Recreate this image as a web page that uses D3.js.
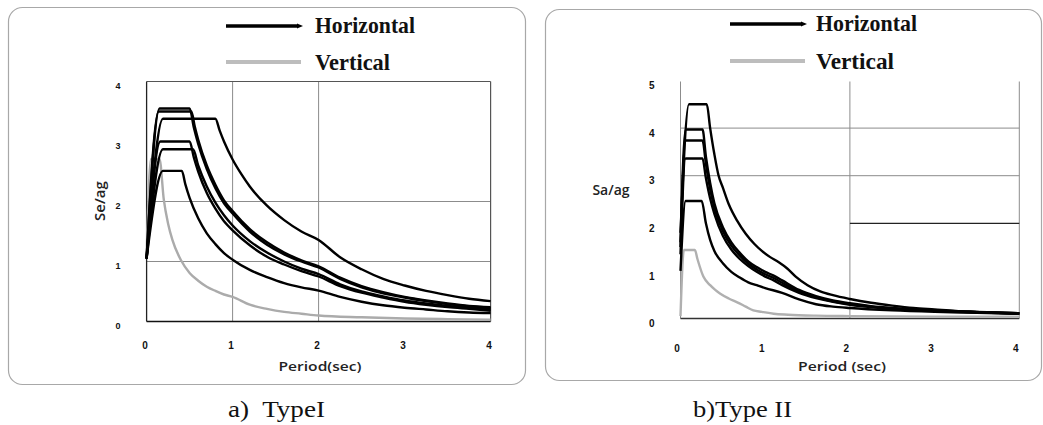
<!DOCTYPE html>
<html><head><meta charset="utf-8">
<script src="https://cdn.jsdelivr.net/npm/d3@7"></script>
<style>body{margin:0;background:#fff}svg{display:block}</style>
</head><body>
<svg id="c" width="1043" height="425"></svg>
<script>
// ---------- data ----------
const periodTicks = [0, 1, 2, 3, 4];
const typeIYTicks = [0, 1, 2, 3, 4];
const typeIIYTicks = [0, 1, 2, 3, 4, 5];
const legendLabels = ["Horizontal", "Vertical"];
const captions = ["a)  TypeI", "b)Type II"];

// Type I (Se/ag) – horizontal spectra
const typeI_H1 = [[0,1.05],[0.15,3.55],[0.5,3.55],[0.55,3.23],[0.6,2.96],[0.7,2.54],[0.8,2.22],[0.9,1.97],[1.0,1.8],[1.2,1.5],[1.4,1.28],[1.6,1.12],[1.8,1.0],[2.0,0.9],[2.25,0.71],[2.5,0.57],[2.75,0.47],[3.0,0.40],[3.25,0.34],[3.5,0.29],[3.75,0.25],[4.0,0.22]];
const typeI_H2 = [[0,1.05],[0.14,3.5],[0.52,3.5],[0.56,3.25],[0.6,3.03],[0.7,2.6],[0.8,2.28],[0.9,2.02],[1.0,1.84],[1.2,1.54],[1.4,1.32],[1.6,1.15],[1.8,1.02],[2.0,0.92],[2.25,0.73],[2.5,0.59],[2.75,0.49],[3.0,0.41],[3.25,0.35],[3.5,0.30],[3.75,0.26],[4.0,0.24]];
const typeI_H3 = [[0,1.05],[0.19,3.38],[0.8,3.38],[0.85,3.18],[0.9,3.0],[1.0,2.70],[1.1,2.46],[1.2,2.25],[1.4,1.93],[1.6,1.69],[1.8,1.50],[2.0,1.36],[2.25,1.07],[2.5,0.87],[2.75,0.71],[3.0,0.60],[3.25,0.51],[3.5,0.44],[3.75,0.38],[4.0,0.34]];
const typeI_H4 = [[0,1.05],[0.16,3.0],[0.5,3.0],[0.55,2.73],[0.6,2.5],[0.7,2.14],[0.8,1.88],[0.9,1.67],[1.0,1.52],[1.2,1.27],[1.4,1.08],[1.6,0.95],[1.8,0.84],[2.0,0.75],[2.25,0.59],[2.5,0.48],[2.75,0.40],[3.0,0.33],[3.25,0.28],[3.5,0.24],[3.75,0.21],[4.0,0.18]];
const typeI_H5 = [[0,1.05],[0.19,2.87],[0.54,2.87],[0.6,2.6],[0.7,2.25],[0.8,1.98],[0.9,1.77],[1.0,1.6],[1.2,1.34],[1.4,1.15],[1.6,1.0],[1.8,0.88],[2.0,0.79],[2.25,0.62],[2.5,0.50],[2.75,0.42],[3.0,0.35],[3.25,0.30],[3.5,0.26],[3.75,0.23],[4.0,0.20]];
const typeI_H6 = [[0,1.05],[0.19,2.51],[0.41,2.51],[0.45,2.29],[0.5,2.06],[0.6,1.72],[0.7,1.47],[0.8,1.29],[0.9,1.14],[1.0,1.03],[1.2,0.86],[1.4,0.74],[1.6,0.64],[1.8,0.57],[2.0,0.515],[2.25,0.41],[2.5,0.33],[2.75,0.27],[3.0,0.23],[3.25,0.20],[3.5,0.17],[3.75,0.15],[4.0,0.14]];
// Type I – vertical spectrum
const typeI_V = [[0,1.05],[0.05,2.71],[0.15,2.71],[0.2,2.03],[0.25,1.63],[0.3,1.36],[0.4,1.02],[0.5,0.81],[0.6,0.68],[0.7,0.58],[0.8,0.51],[0.9,0.45],[1.0,0.41],[1.2,0.28],[1.4,0.21],[1.6,0.16],[1.8,0.13],[2.0,0.10],[2.5,0.07],[3.0,0.05],[3.5,0.04],[4.0,0.03]];

// Type II (Sa/ag) – horizontal spectra
const typeII_H1 = [[0,1.8],[0.1,4.5],[0.31,4.5],[0.35,4.0],[0.4,3.45],[0.45,3.0],[0.5,2.75],[0.57,2.4],[0.67,2.05],[0.77,1.78],[0.87,1.57],[0.96,1.42],[1.05,1.3],[1.16,1.18],[1.26,1.05],[1.36,0.88],[1.5,0.7],[1.65,0.57],[1.8,0.49],[2.0,0.41],[2.25,0.33],[2.5,0.27],[2.75,0.22],[3.0,0.19],[3.25,0.16],[3.5,0.14],[3.75,0.12],[4.0,0.11]];
const typeII_H2 = [[0,1.6],[0.06,3.97],[0.26,3.97],[0.3,3.4],[0.35,2.85],[0.4,2.42],[0.5,1.92],[0.6,1.6],[0.7,1.38],[0.8,1.2],[0.9,1.08],[1.0,0.98],[1.1,0.9],[1.2,0.8],[1.4,0.6],[1.6,0.47],[1.8,0.38],[2.0,0.32],[2.25,0.26],[2.5,0.22],[2.75,0.19],[3.0,0.17],[3.5,0.14],[4.0,0.11]];
const typeII_H3 = [[0,1.5],[0.06,3.74],[0.26,3.74],[0.3,3.25],[0.35,2.72],[0.4,2.33],[0.5,1.84],[0.6,1.53],[0.7,1.32],[0.8,1.15],[0.9,1.03],[1.0,0.93],[1.1,0.85],[1.2,0.75],[1.4,0.57],[1.6,0.45],[1.8,0.36],[2.0,0.30],[2.25,0.25],[2.5,0.21],[2.75,0.18],[3.0,0.16],[3.5,0.13],[4.0,0.11]];
const typeII_H4 = [[0,1.35],[0.06,3.36],[0.26,3.36],[0.3,2.95],[0.35,2.52],[0.4,2.2],[0.5,1.74],[0.6,1.45],[0.7,1.25],[0.8,1.1],[0.9,0.98],[1.0,0.88],[1.1,0.8],[1.2,0.7],[1.4,0.54],[1.6,0.43],[1.8,0.35],[2.0,0.29],[2.25,0.24],[2.5,0.20],[2.75,0.18],[3.0,0.16],[3.5,0.13],[4.0,0.10]];
const typeII_H5 = [[0,1.0],[0.06,2.47],[0.25,2.47],[0.3,2.0],[0.35,1.65],[0.4,1.42],[0.5,1.16],[0.6,0.98],[0.7,0.86],[0.8,0.76],[0.9,0.7],[1.0,0.64],[1.2,0.54],[1.4,0.4],[1.6,0.3],[1.8,0.25],[2.0,0.22],[2.5,0.17],[3.0,0.14],[3.5,0.12],[4.0,0.10]];
// Type II – vertical spectrum
const typeII_V = [[0,0.05],[0.04,1.44],[0.17,1.44],[0.2,1.25],[0.27,0.88],[0.35,0.7],[0.41,0.6],[0.47,0.52],[0.57,0.42],[0.67,0.34],[0.77,0.25],[0.86,0.17],[0.96,0.14],[1.1,0.1],[1.27,0.08],[1.6,0.06],[2.0,0.05],[3.0,0.04],[4.0,0.04]];

// ---------- drawing ----------
const svg = d3.select("#c");
const BLACK = "#000", GRID = "#8c8c8c";
const serif = "Liberation Serif";
const sans = "Open Sans";

// panel frames
svg.append("rect").attr("x",8.5).attr("y",7.5).attr("width",517).attr("height",377)
  .attr("rx",14).attr("fill","none").attr("stroke","#a8a8a8").attr("stroke-width",1.2);
svg.append("rect").attr("x",545.5).attr("y",9.5).attr("width",496).attr("height",371)
  .attr("rx",14).attr("fill","none").attr("stroke","#a8a8a8").attr("stroke-width",1.2);

function legend(x0, yH, yV, tx, wH, wV) {
  const g = svg.append("g");
  g.append("line").attr("x1",x0).attr("x2",x0+72).attr("y1",yH).attr("y2",yH)
    .attr("stroke",BLACK).attr("stroke-width",3.5);
  g.append("path").attr("d",`M${x0+71},${yH-2.5}L${x0+77},${yH}L${x0+71},${yH+2.5}Z`).attr("fill",BLACK);
  g.append("line").attr("x1",x0).attr("x2",x0+75).attr("y1",yV).attr("y2",yV)
    .attr("stroke","#bdbdbd").attr("stroke-width",4);
  g.append("text").attr("x",tx).attr("y",yH+7).text(legendLabels[0])
    .style("font-family",serif).attr("font-weight","bold").attr("font-size",23)
    .attr("textLength",wH).attr("lengthAdjust","spacingAndGlyphs").attr("fill","#111");
  g.append("text").attr("x",tx).attr("y",yV+8).text(legendLabels[1])
    .style("font-family",serif).attr("font-weight","bold").attr("font-size",23)
    .attr("textLength",wV).attr("lengthAdjust","spacingAndGlyphs").attr("fill","#111");
}
legend(226, 26, 62, 315, 100, 75);
legend(730, 24, 61, 816, 101, 78);

function tickStyle(sel, size) {
  sel.select(".domain").remove();
  sel.selectAll(".tick line").remove();
  sel.selectAll("text").style("font-family","Liberation Sans")
    .attr("font-weight","bold").attr("font-size",size).attr("fill","#111");
}

// ===== Panel a) Type I =====
{
  const x = d3.scaleLinear().domain([0,4]).range([146.6,490.6]);
  const y = d3.scaleLinear().domain([0,4]).range([321.5,81.5]);
  const g = svg.append("g");
  g.selectAll(".vg").data([1,2]).join("line").attr("x1",d=>x(d)).attr("x2",d=>x(d))
    .attr("y1",y(4)).attr("y2",y(0)).attr("stroke",GRID).attr("stroke-width",1);
  g.selectAll(".hg").data([1,2]).join("line").attr("x1",x(0)).attr("x2",x(4))
    .attr("y1",d=>y(d)).attr("y2",d=>y(d)).attr("stroke",GRID).attr("stroke-width",1);
  g.append("line").attr("x1",x(0)).attr("x2",x(4)).attr("y1",y(4)).attr("y2",y(4)).attr("stroke","#555").attr("stroke-width",1.2);
  g.append("line").attr("x1",x(4)).attr("x2",x(4)).attr("y1",y(4)).attr("y2",y(0)).attr("stroke","#555").attr("stroke-width",1.2);
  g.append("line").attr("x1",x(0)).attr("x2",x(0)).attr("y1",y(4)).attr("y2",y(0)).attr("stroke","#222").attr("stroke-width",1.3);
  g.append("line").attr("x1",x(0)).attr("x2",x(4)).attr("y1",y(0)).attr("y2",y(0)).attr("stroke","#111").attr("stroke-width",1.5);

  const line = d3.line().x(d=>x(d[0])).y(d=>y(d[1])).curve(d3.curveMonotoneX);
  g.append("path").datum(typeI_V).attr("d",line).attr("fill","none").attr("stroke","#ababab").attr("stroke-width",2.4);
  [typeI_H1,typeI_H2,typeI_H3,typeI_H4,typeI_H5,typeI_H6].forEach(s=>{
    g.append("path").datum(s).attr("d",line).attr("fill","none").attr("stroke",BLACK)
      .attr("stroke-width",2.4).attr("stroke-linejoin","round");
  });

  const ax = svg.append("g").attr("transform",`translate(-2,${y(0)})`)
    .call(d3.axisBottom(x).tickValues(periodTicks).tickFormat(d3.format("d")).tickSize(0).tickPadding(20));
  tickStyle(ax, 10);
  const ay = svg.append("g").attr("transform",`translate(${x(0)},4)`)
    .call(d3.axisLeft(y).tickValues(typeIYTicks).tickFormat(d3.format("d")).tickSize(0).tickPadding(26));
  tickStyle(ay, 9);

  svg.append("text").attr("x",320).attr("y",371).attr("text-anchor","middle").text("Period(sec)")
    .style("font-family",sans).attr("font-weight","600").attr("font-size",13).attr("fill","#222")
    .attr("textLength",83).attr("lengthAdjust","spacingAndGlyphs");
  svg.append("text").attr("transform","translate(105,201) rotate(-90)").attr("text-anchor","middle")
    .text("Se/ag").style("font-family",sans).attr("font-weight","600").attr("font-size",15).attr("fill","#222");
}

// ===== Panel b) Type II =====
{
  const x = d3.scaleLinear().domain([0,4]).range([680.5,1019.3]);
  const y = d3.scaleLinear().domain([0,5]).range([318.5,80.5]);
  const g = svg.append("g");
  g.selectAll(".vg").data([0,2,4]).join("line").attr("x1",d=>x(d)).attr("x2",d=>x(d))
    .attr("y1",y(5)+1).attr("y2",y(0)).attr("stroke",GRID).attr("stroke-width",1);
  g.selectAll(".hg").data([3,4]).join("line").attr("x1",x(0)).attr("x2",x(4))
    .attr("y1",d=>y(d)).attr("y2",d=>y(d)).attr("stroke",GRID).attr("stroke-width",1);
  g.append("line").attr("x1",x(2)).attr("x2",x(4)).attr("y1",y(2)).attr("y2",y(2))
    .attr("stroke","#222").attr("stroke-width",1.3);
  g.append("line").attr("x1",x(0)).attr("x2",x(4)).attr("y1",y(0)).attr("y2",y(0))
    .attr("stroke","#333").attr("stroke-width",1.3);

  const line = d3.line().x(d=>x(d[0])).y(d=>y(d[1])).curve(d3.curveMonotoneX);
  g.append("path").datum(typeII_V).attr("d",line).attr("fill","none").attr("stroke","#b0b0b0").attr("stroke-width",2.4);
  [typeII_H1,typeII_H2,typeII_H3,typeII_H4,typeII_H5].forEach(s=>{
    g.append("path").datum(s).attr("d",line).attr("fill","none").attr("stroke",BLACK)
      .attr("stroke-width",2.4).attr("stroke-linejoin","round");
  });

  const ax = svg.append("g").attr("transform",`translate(-4,${y(0)})`)
    .call(d3.axisBottom(x).tickValues(periodTicks).tickFormat(d3.format("d")).tickSize(0).tickPadding(26));
  tickStyle(ax, 10);
  const ay = svg.append("g").attr("transform",`translate(${x(0)},5)`)
    .call(d3.axisLeft(y).tickValues(typeIIYTicks).tickFormat(d3.format("d")).tickSize(0).tickPadding(26));
  tickStyle(ay, 10);

  svg.append("text").attr("x",842).attr("y",371).attr("text-anchor","middle").text("Period (sec)")
    .style("font-family",sans).attr("font-weight","600").attr("font-size",13).attr("fill","#222")
    .attr("textLength",88).attr("lengthAdjust","spacingAndGlyphs");
  svg.append("text").attr("x",611).attr("y",195).attr("text-anchor","middle").text("Sa/ag")
    .style("font-family",sans).attr("font-weight","600").attr("font-size",14).attr("fill","#222");
}

// captions
svg.append("text").attr("x",228).attr("y",417).text(captions[0])
  .style("font-family",serif).attr("font-size",24).attr("fill","#111")
  .style("white-space","pre").attr("textLength",97).attr("lengthAdjust","spacingAndGlyphs");
svg.append("text").attr("x",693).attr("y",417).text(captions[1])
  .style("font-family",serif).attr("font-size",24).attr("fill","#111")
  .attr("textLength",99).attr("lengthAdjust","spacingAndGlyphs");
</script>
</body></html>
